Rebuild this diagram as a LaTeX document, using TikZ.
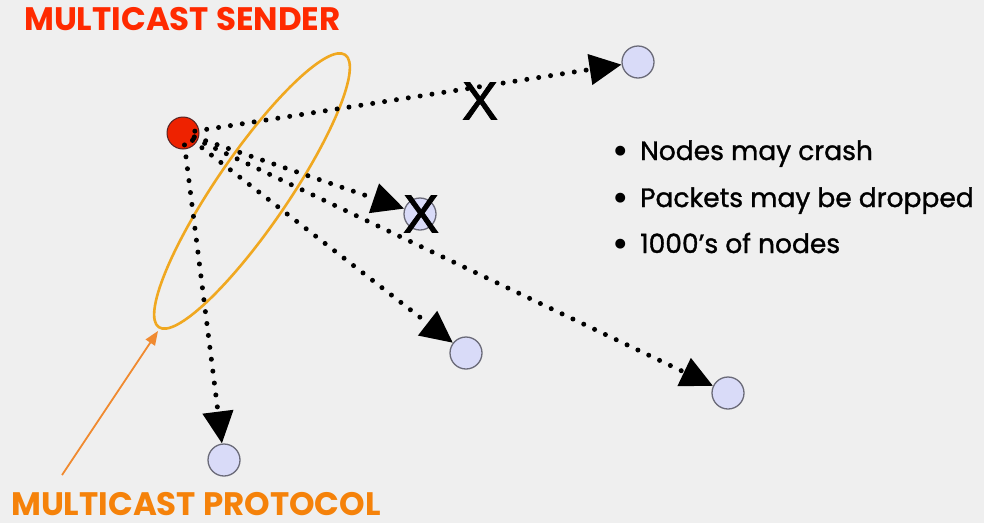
\documentclass[tikz,border=0pt]{standalone}
\usepackage{fontspec}
\setmainfont{Poppins}
\newfontfamily\bulletfont[FakeBold=1.2]{Poppins}
\newfontfamily\xfont[FakeBold=1.5]{Liberation Sans}
\usetikzlibrary{arrows.meta}
\definecolor{bg}{HTML}{EFEFEF}
\definecolor{sendred}{HTML}{EE2200}
\definecolor{titlered}{HTML}{FF2A00}
\definecolor{redborder}{HTML}{552222}
\definecolor{lav}{HTML}{D9DBF8}
\definecolor{nodeborder}{HTML}{6A6A78}
\definecolor{ringcol}{HTML}{F0A820}
\definecolor{protcol}{HTML}{F5820A}
\definecolor{parrow}{HTML}{F08A30}
\begin{document}
\begin{tikzpicture}[x=1pt,y=-1pt,
  dest/.style={circle,draw=nodeborder,fill=lav,line width=1.3pt,minimum size=32pt,inner sep=0pt},
  sender/.style={circle,draw=redborder,fill=sendred,line width=1pt,minimum size=32pt,inner sep=0pt},
  msg/.style={line width=5pt,line cap=round,dash pattern=on 0pt off 12pt,
     shorten <=12pt,-{Triangle[length=32pt 0,width=30pt 0]}},
  ring/.style={draw=ringcol,line width=2.6pt},
  protarrow/.style={draw=parrow,line width=1.8pt,-{Triangle[length=14pt 0,width=11pt 0]}},
  crossmark/.style={font=\xfont\fontsize{54}{54}\selectfont,inner sep=0pt},
  bullet/.style={anchor=base west,font=\bulletfont\fontsize{26.5}{26.5}\selectfont,inner sep=0pt},
  dot/.style={anchor=base west,font=\fontsize{40}{40}\selectfont,inner sep=0pt},
  title/.style={anchor=base west,font=\bfseries\fontsize{32.5}{32.5}\selectfont,inner sep=0pt,text depth=0pt}]
\fill[bg] (0,0) rectangle (984,523);
\useasboundingbox (0,0) rectangle (984,523);

\node[sender] (s) at (183,133) {};
\node[dest] (n1) at (638,62) {};
\node[dest] (n2) at (420,214) {};
\node[dest] (n3) at (466,353) {};
\node[dest] (n4) at (728,393) {};
\node[dest] (n5) at (224,460) {};

\draw[ring] (252,191) ellipse [x radius=165pt, y radius=36pt, rotate=55.6];

\draw[msg] (s.center) -- (n1);
\draw[msg] (s.center) -- (n2);
\draw[msg] (s.center) -- (n3);
\draw[msg] (s.center) -- (n4);
\draw[msg] (s.center) -- (n5);

\node[crossmark] (x1) at (480,101) {X};
\node[crossmark] (x2) at (421,214) {X};

\coordinate (pstart) at (62,475);
\coordinate (ptip) at (158,331);
\draw[protarrow] (pstart) -- (ptip);

\node[title,text=titlered] (t1) at (24,30) {MULTICAST SENDER};
\node[title,text=protcol] (t2) at (11,515) {MULTICAST PROTOCOL};

\node[dot] (d1) at (612,164) {•};
\node[dot] (d2) at (612,211) {•};
\node[dot] (d3) at (612,257) {•};
\node[bullet] (b1) at (640,160) {Nodes may crash};
\node[bullet] (b2) at (640,207) {Packets may be dropped};
\node[bullet] (b3) at (640,253) {1000’s of nodes};
\end{tikzpicture}
\end{document}
